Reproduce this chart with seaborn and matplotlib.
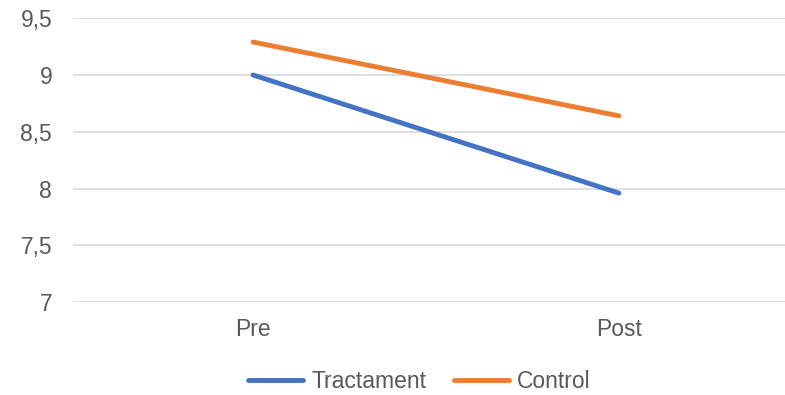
import matplotlib
matplotlib.use("Agg")
import matplotlib.pyplot as plt
import seaborn as sns
import pandas as pd
from matplotlib.lines import Line2D

# Values per group at each time point
moments = ["Pre", "Post"]
tractament = [9.0, 7.96]
control = [9.29, 8.64]
groups = ["Tractament", "Control"]
colors = ["#4472C4", "#ED7D31"]
y_ticks = [7, 7.5, 8, 8.5, 9, 9.5]
y_tick_labels = ["7", "7,5", "8", "8,5", "9", "9,5"]

df = pd.DataFrame({
    "moment": list(range(len(moments))) * 2,
    "valor": tractament + control,
    "grup": [groups[0]] * len(moments) + [groups[1]] * len(moments),
})

sns.set_style("white")
plt.rcParams["font.family"] = ["Liberation Sans", "DejaVu Sans"]

fig = plt.figure(figsize=(7.85, 3.95), dpi=100)
ax = fig.add_axes([0.093, 0.235, 0.907, 0.719])

sns.lineplot(data=df, x="moment", y="valor", hue="grup", hue_order=groups,
             palette=colors, linewidth=3.5, legend=False, ax=ax,
             solid_capstyle="round")

ax.set_xlim(-0.492, 1.454)
ax.set_ylim(7, 9.5)
ax.set_yticks(y_ticks)
ax.set_yticklabels(y_tick_labels)
ax.set_xticks(range(len(moments)))
ax.set_xticklabels(moments)
ax.set_xlabel("")
ax.set_ylabel("")
ax.yaxis.grid(True, color="#D9D9D9", linewidth=1.2)
ax.xaxis.grid(False)
ax.set_axisbelow(True)
for s in ax.spines.values():
    s.set_visible(False)
ax.tick_params(axis="both", length=0, labelsize=16.5, labelcolor="#595959")
ax.tick_params(axis="y", pad=15)
ax.tick_params(axis="x", pad=11.5)

handles = [Line2D([0], [0], color=c, linewidth=3.5, solid_capstyle="round") for c in colors]
fig.legend(handles, groups, loc="center", bbox_to_anchor=(0.534, 0.035), ncol=2,
           frameon=False, fontsize=16.5, labelcolor="#595959",
           handlelength=2.4, handletextpad=0.35, columnspacing=1.2)

fig.savefig("out.png", dpi=100)
